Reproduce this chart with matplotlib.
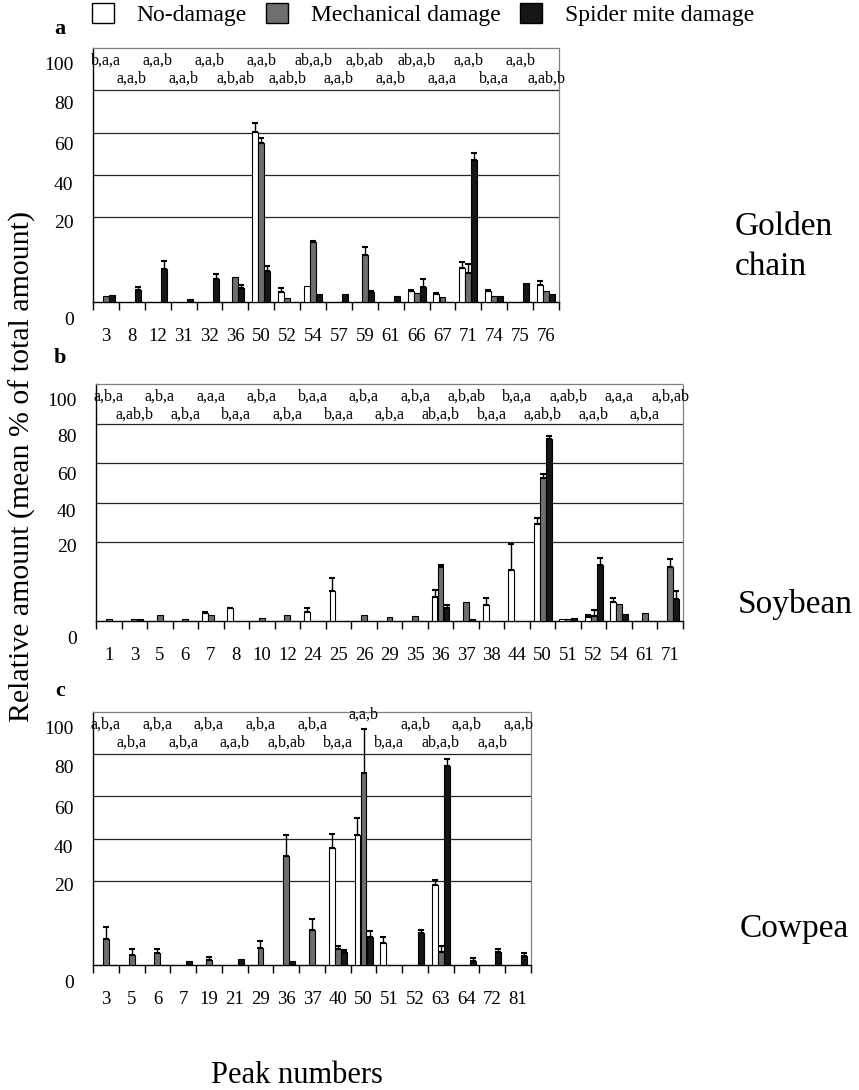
import matplotlib
matplotlib.use("Agg")
import matplotlib.pyplot as plt
import matplotlib.transforms as mtransforms
from matplotlib.patches import Patch
import numpy as np

plt.rcParams['font.family'] = ['Liberation Serif', 'DejaVu Serif']

GRAY = '#6e6e6e'
BLACK = '#161616'

# a) golden chain
peaks_a = [3, 8, 12, 31, 32, 36, 50, 52, 54, 57, 59, 61, 66, 67, 71, 74, 75, 76]
white_a = [0, 0, 0, 0, 0, 0, 60.2, 2.3, 3.7, 0, 0, 0, 2.7, 1.9, 8.0, 2.5, 0, 4.0]
white_err_a = [0, 0, 0, 0, 0, 0, 4.3, 0.9, 0, 0, 0, 0, 0.2, 0.2, 1.4, 0.4, 0, 1.0]
gray_a = [1.3, 0, 0, 0, 0, 5.9, 55.0, 0.9, 14.1, 0, 11.1, 0, 2.1, 1.1, 6.8, 1.3, 0, 2.5]
gray_err_a = [0, 0, 0, 0, 0, 0, 2.5, 0, 0.3, 0, 1.9, 0, 0, 0, 2.2, 0, 0, 0]
black_a = [1.7, 2.8, 7.8, 0.8, 5.5, 3.3, 7.4, 0, 1.8, 1.9, 2.3, 1.3, 3.6, 0, 47.3, 1.3, 4.4, 1.9]
black_err_a = [0, 0.8, 2.0, 0, 1.1, 0.6, 1.2, 0, 0, 0, 0.4, 0, 1.9, 0, 3.1, 0, 0, 0]
upper_a = ['b,a,a', 'a,a,b', 'a,a,b', 'a,a,b', 'ab,a,b', 'a,b,ab', 'ab,a,b', 'a,a,b', 'a,a,b']
lower_a = ['a,a,b', 'a,a,b', 'a,b,ab', 'a,ab,b', 'a,a,b', 'a,a,b', 'a,a,a', 'b,a,a', 'a,ab,b']

# b) soybean
peaks_b = [1, 3, 5, 6, 7, 8, 10, 12, 24, 25, 26, 29, 35, 36, 37, 38, 44, 50, 51, 52, 54, 61, 71]
white_b = [0, 0, 0, 0, 2.0, 3.3, 0, 0, 2.2, 7.5, 0, 0, 0, 6.1, 0, 4.1, 12.9, 29.1, 0.5, 1.1, 4.7, 0, 0]
white_err_b = [0, 0, 0, 0, 0.4, 0.1, 0, 0, 1.0, 3.3, 0, 0, 0, 1.8, 0, 1.6, 6.7, 3.0, 0, 0.5, 1.2, 0, 0]
gray_b = [0.5, 0.4, 1.4, 0.5, 1.6, 0, 0.8, 1.6, 0, 0, 1.6, 1.0, 1.3, 13.7, 4.7, 0, 0, 52.3, 0.5, 1.2, 4.3, 2.0, 13.7]
gray_err_b = [0, 0, 0, 0, 0, 0, 0, 0, 0, 0, 0, 0, 0, 0.6, 0, 0, 0, 2.1, 0, 1.6, 0, 0, 1.9]
black_b = [0, 0.4, 0, 0, 0, 0, 0, 0, 0, 0, 0, 0, 0, 3.4, 0.6, 0, 0, 72.0, 0.8, 14.3, 1.8, 0, 5.5]
black_err_b = [0, 0, 0, 0, 0, 0, 0, 0, 0, 0, 0, 0, 0, 0.7, 0, 0, 0, 1.7, 0, 1.6, 0, 0, 2.2]
upper_b = ['a,b,a', 'a,b,a', 'a,a,a', 'a,b,a', 'b,a,a', 'a,b,a', 'a,b,a', 'a,b,ab', 'b,a,a', 'a,ab,b', 'a,a,a', 'a,b,ab']
lower_b = ['a,ab,b', 'a,b,a', 'b,a,a', 'a,b,a', 'b,a,a', 'a,b,a', 'ab,a,b', 'b,a,a', 'a,ab,b', 'a,a,b', 'a,b,a']

# c) cowpea
peaks_c = [3, 5, 6, 7, 19, 21, 29, 36, 37, 40, 50, 51, 52, 63, 64, 72, 81]
white_c = [0, 0, 0, 0, 0, 0, 0, 0, 0, 35.4, 41.7, 5.1, 0, 19.0, 0, 0, 0]
white_err_c = [0, 0, 0, 0, 0, 0, 0, 0, 0, 6.6, 8.2, 1.6, 0, 1.5, 0, 0, 0]
gray_c = [6.1, 2.4, 2.8, 0, 1.1, 0, 4.0, 31.5, 8.3, 3.8, 71.3, 0, 0, 3.2, 0, 0, 0]
gray_err_c = [2.8, 1.4, 1.0, 0, 0.9, 0, 1.8, 10.0, 2.7, 0.8, 20.8, 0, 0, 1.2, 0, 0, 0]
black_c = [0, 0, 0, 1.0, 0, 1.5, 0, 0.9, 0, 3.1, 6.7, 0, 7.5, 74.2, 1.0, 3.0, 2.1]
black_err_c = [0, 0, 0, 0, 0, 0, 0, 0, 0, 0.5, 1.4, 0, 0.8, 3.4, 0.6, 0.8, 0.7]
upper_c = ['a,b,a', 'a,b,a', 'a,b,a', 'a,b,a', 'a,b,a', 'a,a,b', 'a,a,b', 'a,a,b', 'a,a,b']
lower_c = ['a,b,a', 'a,b,a', 'a,a,b', 'a,b,ab', 'b,a,a', 'b,a,a', 'ab,a,b', 'a,a,b']

y_ticks = [0, 20, 40, 60, 80, 100]
y_grid = [20, 40, 60, 80]
# the printed tick labels sit a little below their lines (pixels)
y_label_drop = [16, 4, 8, 11, 12, 15]

W, H = 859, 1090
fig = plt.figure(figsize=(W / 100, H / 100), dpi=100)


def px_rect(left, right, top, bottom):
    return [left / W, 1 - bottom / H, (right - left) / W, (bottom - top) / H]


# 0-20 is stretched to twice the scale of the rest of the axis
def fwd(y):
    y = np.asarray(y, dtype=float)
    return np.where(y <= 20, 2.0 * y, y + 20)


def inv(y):
    y = np.asarray(y, dtype=float)
    return np.where(y <= 40, y / 2.0, y - 20)


def draw_panel(rect, peaks, white, white_err, gray, gray_err, black, black_err, upper, lower):
    ax = fig.add_axes(rect)
    ax.set_yscale('function', functions=(fwd, inv))
    n = len(peaks)
    x = np.arange(n) + 0.5

    series = [(-0.235, white, white_err, 'white'),
              (0.0, gray, gray_err, GRAY),
              (0.235, black, black_err, BLACK)]
    for off, vals, errs, col in series:
        vals = np.array(vals, dtype=float)
        errs = np.array(errs, dtype=float)
        m = vals > 0
        ax.bar(x[m] + off, vals[m], width=0.23, color=col, edgecolor='black',
               linewidth=0.8, zorder=3)
        e = errs > 0
        ax.errorbar(x[e] + off, vals[e], yerr=[np.zeros(e.sum()), errs[e]], fmt='none',
                    ecolor='black', elinewidth=1.0, capsize=2.2, capthick=1.5, zorder=4)

    for g in y_grid:
        ax.axhline(g, color='0.15', lw=0.9, zorder=1)

    ax.set_xlim(0, n)
    ax.set_ylim(0, 100)

    # peak numbers under each group, boundary ticks between groups
    ax.set_xticks(x)
    ax.set_xticklabels([str(p) for p in peaks], fontsize=13.5)
    ax.set_xticks(np.arange(n + 1), minor=True)
    ax.tick_params(axis='x', which='major', length=0, pad=19)
    ax.tick_params(axis='x', which='minor', length=6, width=1.0, direction='out', color='black')

    ax.set_yticks(y_ticks)
    ax.set_yticklabels([str(t) for t in y_ticks], fontsize=14)
    ax.tick_params(axis='y', length=0, pad=14)
    for lab, drop in zip(ax.get_yticklabels(), y_label_drop):
        lab.set_transform(lab.get_transform() +
                          mtransforms.ScaledTranslation(0, -drop / 100, fig.dpi_scale_trans))

    for side in ['left', 'bottom']:
        ax.spines[side].set_color('black')
        ax.spines[side].set_linewidth(1.0)
    for side in ['top', 'right']:
        ax.spines[side].set_color('0.5')
        ax.spines[side].set_linewidth(0.9)
        ax.spines[side].set_linestyle((0, (1.5, 1)))

    # significance letters, two staggered rows under the top border
    tops = np.max([np.add(white, white_err), np.add(gray, gray_err), np.add(black, black_err)], axis=0)
    for k, lab in enumerate(upper):
        i = 2 * k
        drop = 3 if tops[i] > 85 else 13
        ax.annotate(lab, xy=(x[i], 1), xycoords=('data', 'axes fraction'),
                    xytext=(0, -drop * 0.72), textcoords='offset points',
                    ha='center', va='center', fontsize=11.5, annotation_clip=False)
    for k, lab in enumerate(lower):
        i = 2 * k + 1
        ax.annotate(lab, xy=(x[i], 1), xycoords=('data', 'axes fraction'),
                    xytext=(0, -31 * 0.72), textcoords='offset points',
                    ha='center', va='center', fontsize=11.5, annotation_clip=False)
    return ax


draw_panel(px_rect(93, 559, 48, 302), peaks_a, white_a, white_err_a, gray_a, gray_err_a,
           black_a, black_err_a, upper_a, lower_a)
draw_panel(px_rect(96, 683, 384, 621), peaks_b, white_b, white_err_b, gray_b, gray_err_b,
           black_b, black_err_b, upper_b, lower_b)
draw_panel(px_rect(93, 531, 712, 965), peaks_c, white_c, white_err_c, gray_c, gray_err_c,
           black_c, black_err_c, upper_c, lower_c)

# panel letters
for letter, ypx in [('a', 29), ('b', 358), ('c', 691)]:
    fig.text(60 / W, 1 - ypx / H, letter, fontsize=16, fontweight='bold', ha='center', va='center')

# plant names on the right
fig.text(735 / W, 1 - 235 / H, 'Golden', fontsize=24, ha='left', va='baseline')
fig.text(735 / W, 1 - 275 / H, 'chain', fontsize=24, ha='left', va='baseline')
fig.text(738 / W, 1 - 613 / H, 'Soybean', fontsize=24, ha='left', va='baseline')
fig.text(740 / W, 1 - 937 / H, 'Cowpea', fontsize=24, ha='left', va='baseline')

fig.text(22 / W, 1 - 466 / H, 'Relative amount (mean % of total amount)', fontsize=21.5,
         rotation=90, ha='center', va='center')
fig.text(297 / W, 1 - 1083 / H, 'Peak numbers', fontsize=22, ha='center', va='baseline')

handles = [Patch(facecolor='white', edgecolor='black', linewidth=1.0, label='No-damage'),
           Patch(facecolor=GRAY, edgecolor='black', linewidth=1.0, label='Mechanical damage'),
           Patch(facecolor=BLACK, edgecolor='black', linewidth=1.0, label='Spider mite damage')]
fig.legend(handles=handles, loc='upper left', bbox_to_anchor=(92 / W, 1 - 3 / H), ncol=3,
           frameon=False, fontsize=17, handlelength=0.92, handleheight=0.92,
           handletextpad=0.95, columnspacing=0.85, borderpad=0, borderaxespad=0)

fig.savefig('out.png', dpi=100)
